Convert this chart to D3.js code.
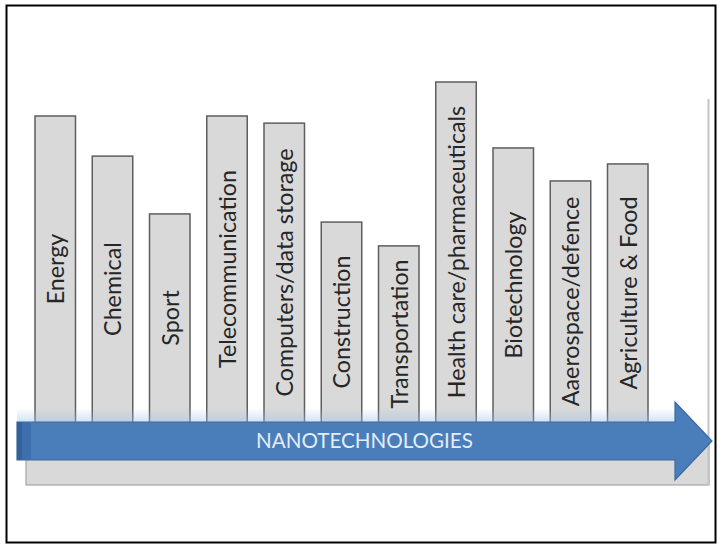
<!DOCTYPE html>
<html><head><meta charset="utf-8">
<script src="https://cdn.jsdelivr.net/npm/d3@7"></script>
<style>html,body{margin:0;padding:0;background:#fff;} svg{display:block;}</style>
</head><body>
<svg id="chart" width="721" height="546"></svg>
<script>
// ---- data ----
const categories = ["Energy","Chemical","Sport","Telecommunication","Computers/data storage","Construction","Transportation","Health care/pharmaceuticals","Biotechnology","Aaerospace/defence","Agriculture & Food"];
const values = [90, 78.2, 61.2, 90, 87.9, 58.8, 51.8, 100, 80.6, 70.9, 75.9];
const arrowLabel = "NANOTECHNOLOGIES";
const valueDomain = [0, 100];

// ---- layout ----
const FONT = "Lato, 'Open Sans', sans-serif";
const svg = d3.select("#chart");
const data = categories.map((c, i) => ({cat: c, val: values[i]}));

const x = d3.scaleBand().domain(categories).range([35, 648]).paddingInner(0.2926).paddingOuter(0);
const y = d3.scaleLinear().domain(valueDomain).range([422, 82]);
const bw = x.bandwidth();

function fitSize(str, target) {
  const t = svg.append("text").attr("font-family", FONT).attr("font-size", 100).text(str);
  const w = t.node().getComputedTextLength();
  t.remove();
  return 100 * target / w;
}
const labelSize = fitSize("Telecommunication", 198);
const arrowSize = fitSize(arrowLabel, 217);

// frame
svg.append("rect").attr("x", 6.5).attr("y", 5.5).attr("width", 709).attr("height", 537)
  .attr("fill", "#fff").attr("stroke", "#000").attr("stroke-width", 2);

// gray base and right wall line
svg.append("rect").attr("x", 26).attr("y", 440).attr("width", 683).attr("height", 45)
  .attr("fill", "#d9d9d9").attr("stroke", "#a6a6a6").attr("stroke-width", 1.2);
svg.append("line").attr("x1", 708.5).attr("x2", 708.5).attr("y1", 99).attr("y2", 485)
  .attr("stroke", "#c4c4c4").attr("stroke-width", 2);

// bars
svg.append("g").selectAll("rect").data(data).join("rect")
  .attr("x", d => x(d.cat)).attr("y", d => y(d.val))
  .attr("width", bw).attr("height", d => y(0) + 10 - y(d.val))
  .attr("fill", "#d9d9d9").attr("stroke", "#5e5e5e").attr("stroke-width", 1.5);

// faint glow above arrow
const defs = svg.append("defs");
const g1 = defs.append("linearGradient").attr("id", "glow").attr("x1", 0).attr("x2", 0).attr("y1", 0).attr("y2", 1);
g1.append("stop").attr("offset", "0%").attr("stop-color", "#9dc3e6").attr("stop-opacity", 0);
g1.append("stop").attr("offset", "100%").attr("stop-color", "#9dc3e6").attr("stop-opacity", 0.45);
svg.append("rect").attr("x", 17).attr("y", 408).attr("width", 658).attr("height", 14).attr("fill", "url(#glow)");

// arrow
const ax0 = 17, ax1 = 675, tip = 712, bt = 422, bb = 460, ht = 402, hb = 480;
const arrowPath = d3.path();
arrowPath.moveTo(ax0, bt); arrowPath.lineTo(ax1, bt); arrowPath.lineTo(ax1, ht);
arrowPath.lineTo(tip, (bt + bb) / 2); arrowPath.lineTo(ax1, hb); arrowPath.lineTo(ax1, bb);
arrowPath.lineTo(ax0, bb); arrowPath.closePath();
svg.append("path").attr("d", arrowPath.toString()).attr("fill", "#4a7ebb")
  .attr("stroke", "#3a69a3").attr("stroke-width", 1.2);
svg.append("rect").attr("x", ax0).attr("y", bt).attr("width", 14).attr("height", bb - bt)
  .attr("fill", "#3f70ae");
svg.append("rect").attr("x", ax0).attr("y", bt).attr("width", 5).attr("height", bb - bt)
  .attr("fill", "#33619c");

svg.append("text").attr("x", (ax0 + tip) / 2).attr("y", (bt + bb) / 2).attr("dy", "0.36em")
  .attr("text-anchor", "middle").attr("font-family", FONT).attr("font-size", arrowSize)
  .attr("fill", "#e4ecf7").text(arrowLabel);

// bar labels
svg.append("g").selectAll("text").data(data).join("text")
  .attr("transform", d => `translate(${x(d.cat) + bw / 2},${(y(d.val) + y(0)) / 2}) rotate(-90)`)
  .attr("dy", "0.38em").attr("text-anchor", "middle")
  .attr("font-family", FONT).attr("font-size", labelSize).attr("fill", "#262626")
  .text(d => d.cat);
</script>
</body></html>
